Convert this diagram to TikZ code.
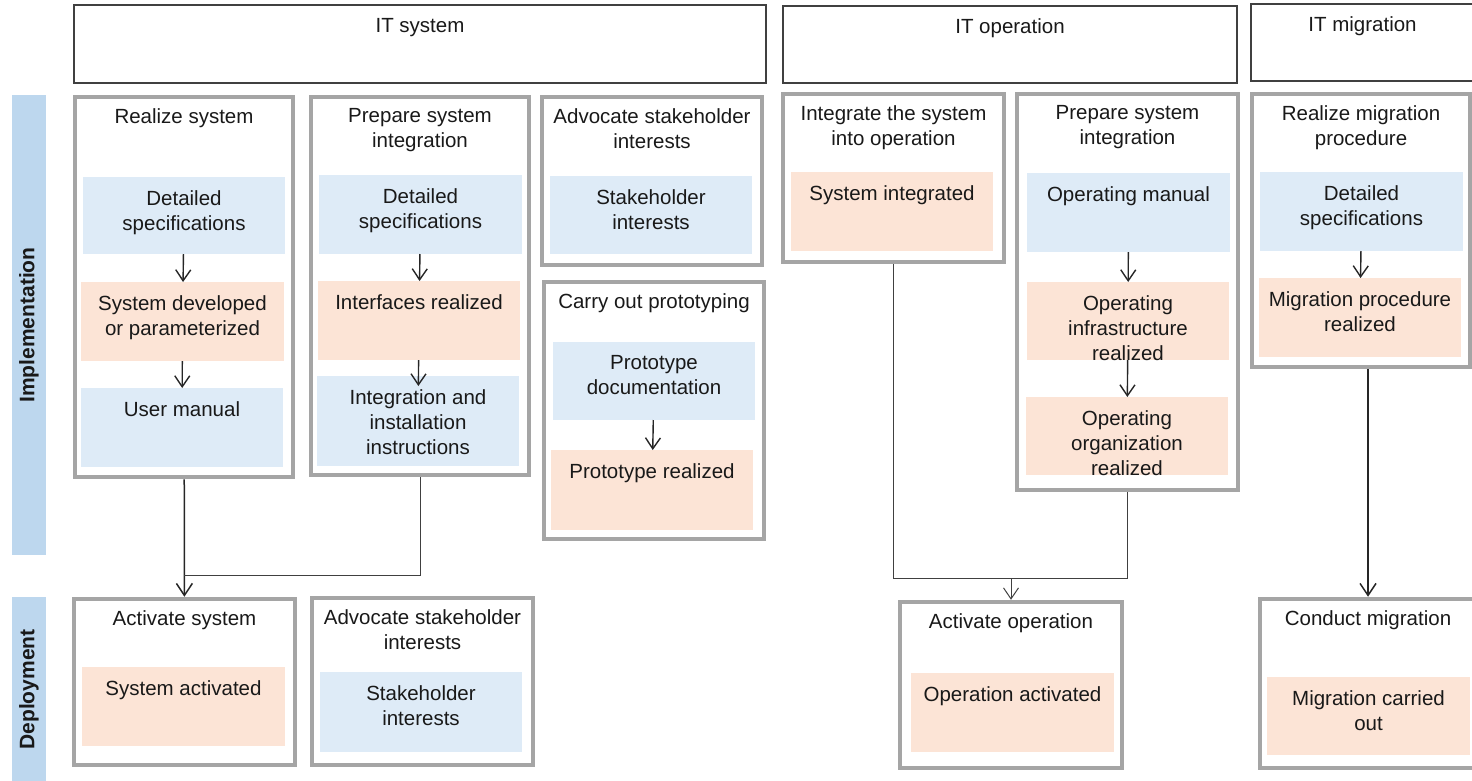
\documentclass[tikz,border=0pt]{standalone}
\usepackage{fontspec}
\setmainfont{Liberation Sans}
\usetikzlibrary{arrows.meta,fit}
\definecolor{specblue}{HTML}{DEEBF7}
\definecolor{resultpeach}{HTML}{FCE4D6}
\definecolor{phaseblue}{HTML}{BDD7EE}
\definecolor{groupgray}{HTML}{A5A5A5}
\definecolor{headgray}{HTML}{404040}

\begin{document}
\begin{tikzpicture}[x=1pt,y=-1pt,
    every node/.style={font=\fontsize{20.5}{25}\selectfont,text=black!90},
    header/.style={draw=headgray,line width=1.3pt,inner sep=0pt},
    group/.style={draw=groupgray,line width=4.5pt,inner sep=0pt},
    spec/.style={fill=specblue,inner sep=0pt,outer sep=0pt},
    result/.style={fill=resultpeach,inner sep=0pt,outer sep=0pt},
    phase/.style={fill=phaseblue,inner sep=0pt},
    phasetext/.style={rotate=90,font=\fontsize{21}{25}\selectfont\bfseries},
    boxtitle/.style={anchor=north,align=center,inner sep=0pt,yshift=-13.5pt},
    flow/.style={-{Straight Barb[length=11pt,width=15pt]},line width=1.4pt,black!85},
    link/.style={-{Straight Barb[length=12pt,width=16pt]},line width=1.5pt,black!85},
    joint/.style={line width=1pt,black!75},
    thinflow/.style={-{Straight Barb[length=11pt,width=15pt]},line width=1pt,black!75}]
  \useasboundingbox (0,0) rectangle (1472,780);

  % phases
  \node[phase,fit={(12,95) (46,555)}] (impl) {};
  \node[phasetext] (implt) at (impl) {Implementation};
  \node[phase,fit={(12,597) (46,782)}] (depl) {};
  \node[phasetext] (deplt) at (depl) {Deployment};

  % headers
  \node[header,fit={(74,5) (766,83)},label={[boxtitle]north:IT system}] (hsys) {};
  \node[header,fit={(783,6) (1237,83)},label={[boxtitle]north:IT operation}] (hop) {};
  \node[header,fit={(1251,4) (1474,81)},label={[boxtitle]north:IT migration}] (hmig) {};

  % activities
  \node[group,fit={(75,97) (293,477)},label={[boxtitle]north:Realize system}] (rsys) {};
  \node[group,fit={(311,97) (529,475)},label={[boxtitle]north:Prepare system\\integration}] (psys) {};
  \node[group,fit={(542,97) (762,265)},label={[boxtitle]north:Advocate stakeholder\\interests}] (advs) {};
  \node[group,fit={(544,282) (764,539)},label={[boxtitle]north:Carry out prototyping}] (proto) {};
  \node[group,fit={(783,94) (1004,262)},label={[boxtitle]north:Integrate the system\\into operation}] (intop) {};
  \node[group,fit={(1017,94) (1238,490)},label={[boxtitle]north:Prepare system\\integration}] (popr) {};
  \node[group,fit={(1252,94) (1470,367)},label={[boxtitle]north:Realize migration\\procedure}] (rmig) {};
  \node[group,fit={(74,599) (295,765)},label={[boxtitle]north:Activate system}] (actsys) {};
  \node[group,fit={(312,598) (533,765)},label={[boxtitle]north:Advocate stakeholder\\interests}] (advd) {};
  \node[group,fit={(900,602) (1122,768)},label={[boxtitle]north:Activate operation}] (actop) {};
  \node[group,fit={(1260,599) (1476,768)},label={[boxtitle]north:Conduct migration}] (cmig) {};

  % work products
  \node[spec,fit={(83,177) (285,254)},label={[boxtitle]north:Detailed\\specifications}] (ds1) {};
  \node[result,fit={(81,282) (284,361)},label={[boxtitle]north:System developed\\or parameterized}] (sd1) {};
  \node[spec,fit={(81,388) (283,467)},label={[boxtitle]north:User manual}] (um1) {};
  \node[spec,fit={(319,175) (522,254)},label={[boxtitle]north:Detailed\\specifications}] (ds2) {};
  \node[result,fit={(318,281) (520,360)},label={[boxtitle]north:Interfaces realized}] (ir2) {};
  \node[spec,fit={(317,376) (519,466)},label={[boxtitle]north:Integration and\\installation\\instructions}] (ii2) {};
  \node[spec,fit={(550,176) (752,254)},label={[boxtitle]north:Stakeholder\\interests}] (si3) {};
  \node[spec,fit={(553,342) (755,420)},label={[boxtitle]north:Prototype\\documentation}] (pd4) {};
  \node[result,fit={(551,450) (753,530)},label={[boxtitle]north:Prototype realized}] (pr4) {};
  \node[result,fit={(791,172) (993,251)},label={[boxtitle]north:System integrated}] (sint) {};
  \node[spec,fit={(1027,173) (1230,252)},label={[boxtitle]north:Operating manual}] (om6) {};
  \node[result,fit={(1027,282) (1229,360)},label={[boxtitle]north:Operating\\infrastructure\\realized}] (oi6) {};
  \node[result,fit={(1026,397) (1228,475)},label={[boxtitle]north:Operating\\organization\\realized}] (oo6) {};
  \node[spec,fit={(1260,172) (1463,251)},label={[boxtitle]north:Detailed\\specifications}] (ds7) {};
  \node[result,fit={(1259,278) (1461,357)},label={[boxtitle]north:Migration procedure\\realized}] (mp7) {};
  \node[result,fit={(82,667) (285,746)},label={[boxtitle]north:System activated}] (sa8) {};
  \node[spec,fit={(320,672) (522,752)},label={[boxtitle]north:Stakeholder\\interests}] (si9) {};
  \node[result,fit={(911,673) (1114,752)},label={[boxtitle]north:Operation activated}] (oa10) {};
  \node[result,fit={(1267,677) (1470,755)},label={[boxtitle]north:Migration carried\\out}] (mc11) {};

  \foreach \a/\b in {ds1/sd1,sd1/um1,ds2/ir2,pd4/pr4,om6/oi6,oi6/oo6,ds7/mp7}
    \draw[flow] (\a) -- (\b);
  \draw[flow,shorten >=-10pt] (ir2) -- (ii2);

  % connectors between phases
  \coordinate (jsys) at (184,575);
  \coordinate (jop) at (1011,578);
  \draw[link] (rsys) -- (actsys);
  \draw[joint] (psys.south) |- (jsys);
  \draw[joint] (intop.south) |- (jop);
  \draw[joint] (popr.south) |- (jop);
  \draw[thinflow] (jop) -- (actop.north);
  \draw[link] (cmig.north |- rmig.south) -- (cmig.north);
\end{tikzpicture}
\end{document}
